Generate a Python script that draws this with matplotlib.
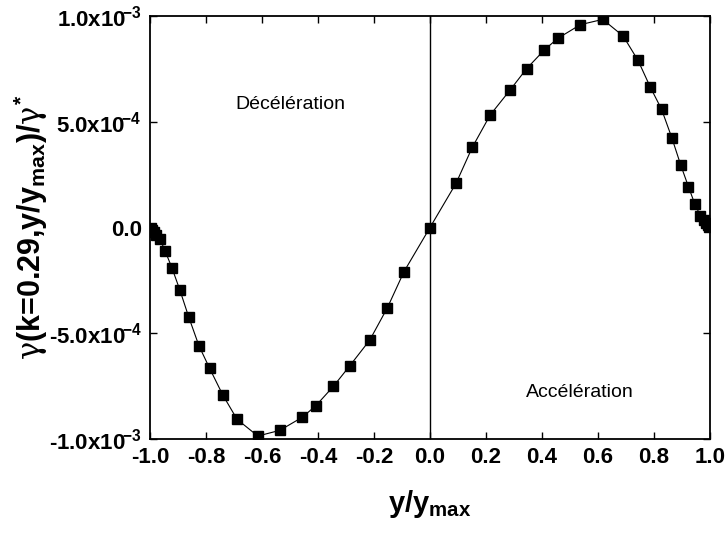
import matplotlib
matplotlib.use("Agg")
import matplotlib.pyplot as plt
import numpy as np

plt.rcParams['font.family'] = ['Liberation Sans', 'DejaVu Sans']
plt.rcParams['mathtext.fontset'] = 'custom'
plt.rcParams['mathtext.rm'] = 'Liberation Sans:bold'
plt.rcParams['mathtext.bf'] = 'Liberation Sans:bold'
plt.rcParams['mathtext.it'] = 'DejaVu Serif'
plt.rcParams['mathtext.sf'] = 'Liberation Sans:bold'

# data (y in units of 1e-3)
x_vals = [-0.998, -0.993, -0.986, -0.978, -0.964, -0.946, -0.921, -0.893, -0.862, -0.825,
          -0.787, -0.740, -0.689, -0.615, -0.536, -0.456, -0.408, -0.345, -0.286, -0.215,
          -0.152, -0.093, 0.0, 0.093, 0.151, 0.215, 0.286, 0.345, 0.408, 0.456, 0.537,
          0.617, 0.690, 0.743, 0.787, 0.827, 0.864, 0.895, 0.923, 0.946, 0.966, 0.978,
          0.986, 0.993, 0.998]
y_vals = [-0.002, -0.012, -0.022, -0.036, -0.056, -0.111, -0.193, -0.297, -0.422, -0.560,
          -0.666, -0.792, -0.907, -0.986, -0.959, -0.897, -0.843, -0.751, -0.653, -0.532,
          -0.379, -0.209, 0.0, 0.209, 0.379, 0.532, 0.650, 0.751, 0.839, 0.894, 0.959,
          0.984, 0.905, 0.790, 0.663, 0.559, 0.423, 0.297, 0.193, 0.110, 0.055, 0.035,
          0.022, 0.012, 0.002]
y_scale = 1e-3

x_ticks = [-1.0, -0.8, -0.6, -0.4, -0.2, 0.0, 0.2, 0.4, 0.6, 0.8, 1.0]
x_ticklabels = ['-1.0', '-0.8', '-0.6', '-0.4', '-0.2', '0.0', '0.2', '0.4', '0.6', '0.8', '1.0']
y_ticks = [-1.0e-3, -5.0e-4, 0.0, 5.0e-4, 1.0e-3]
y_ticklabels = ['-1.0x10$^{\\!\\mathregular{-3}}$', '-5.0x10$^{\\!\\mathregular{-4}}$', '0.0',
                '5.0x10$^{\\!\\mathregular{-4}}$', '1.0x10$^{\\!\\mathregular{-3}}$']

fig = plt.figure(figsize=(7.28, 5.33), dpi=100)
ax = fig.add_axes([150/728, 1-439/533, 560/728, 423/533])

ys = np.array(y_vals) * y_scale
ax.plot(x_vals, ys, color='black', lw=0.8, marker='s', ms=6.5,
        markerfacecolor='black', markeredgecolor='black', zorder=3)
ax.axvline(0.0, color='black', lw=1.0, zorder=2)

ax.set_xlim(-1.0, 1.0)
ax.set_ylim(-1.0e-3, 1.0e-3)
ax.set_xticks(x_ticks)
ax.set_xticklabels(x_ticklabels)
ax.set_yticks(y_ticks)
ax.set_yticklabels(y_ticklabels)
ax.tick_params(direction='in', length=5, width=1.0, top=True, right=True,
               labelsize=16, pad=6)
ax.tick_params(axis='y', pad=6)
for lab in ax.get_xticklabels() + ax.get_yticklabels():
    lab.set_fontweight('bold')
for s in ax.spines.values():
    s.set_linewidth(1.3)

ax.set_xlabel('y/y$_{\\mathregular{max}}$', fontsize=21, fontweight='bold', labelpad=14)
ax.set_ylabel('$\\gamma$(k=0.29,y/y$_{\\mathregular{max}}$)/$\\gamma^{\\mathregular{*}}$',
              fontsize=22, fontweight='bold')
ax.yaxis.set_label_coords((50 - 150) / 560, 0.5)

ax.text(-0.5, 0.58e-3, 'Décélération', fontsize=14, ha='center', va='center')
ax.text(0.536, -0.778e-3, 'Accélération', fontsize=14, ha='center', va='center')

fig.savefig('out.png', dpi=100)
